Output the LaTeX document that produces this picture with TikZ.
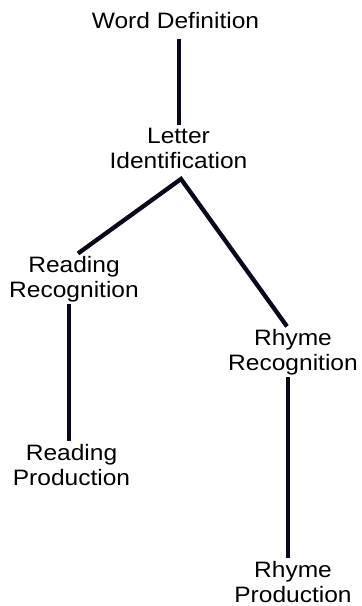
\documentclass[tikz,border=0pt]{standalone}
\usepackage{fontspec}
\newfontfamily\labelfont[FakeStretch=1.1]{Liberation Sans}
\definecolor{linknavy}{RGB}{8,8,28}
\tikzset{
	skill/.style={font=\labelfont\fontsize{11.15}{12.5}\selectfont, align=center, inner sep=1pt, anchor=base},
	link/.style={draw=linknavy, line width=2.15pt, line join=miter}
}
\begin{document}
\begin{tikzpicture}[x=0.5pt,y=-0.5pt]
	\useasboundingbox (0,0) rectangle (362,606);
	
	\node [skill] (word) at (175.5,28) {Word Definition};
	\node [skill] (letter) at (178.5,168) {Letter\\Identification};
	\node [skill] (readrec) at (74,297) {Reading\\Recognition};
	\node [skill] (readprod) at (71.5,485) {Reading\\Production};
	\node [skill] (rhymerec) at (293,370) {Rhyme\\Recognition};
	\node [skill] (rhymeprod) at (293,602) {Rhyme\\Production};
	\coordinate (fork) at (181,179);
	
	\draw [link, shorten <=4pt] ([xshift=1.75pt]word.south) -- ([xshift=0.25pt]letter.north);
	\draw [link] ([xshift=2pt]readrec.north) -- (fork) -- ([xshift=-3pt]rhymerec.north);
	\draw [link] ([xshift=-2.5pt]readrec.south) -- ([xshift=-1.25pt]readprod.north);
	\draw [link] ([xshift=-2.5pt]rhymerec.south) -- ([xshift=-2.5pt]rhymeprod.north);
\end{tikzpicture}
\end{document}
